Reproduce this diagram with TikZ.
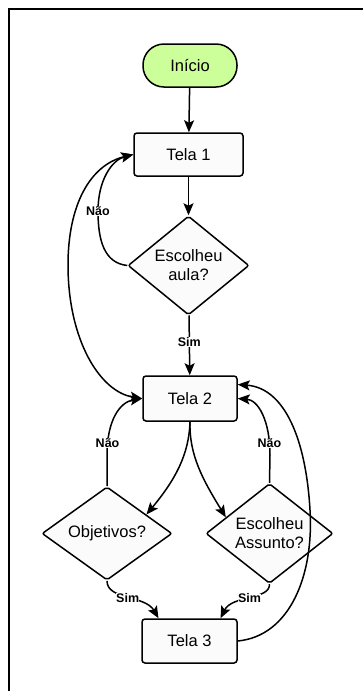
\documentclass[tikz,border=0pt]{standalone}
\usepackage{fontspec}
\setmainfont{Liberation Sans}
\usetikzlibrary{shapes.geometric,arrows.meta,calc}
\definecolor{startgreen}{HTML}{CCFF99}
\definecolor{boxfill}{HTML}{FBFBFB}
\begin{document}
\begin{tikzpicture}[x=1pt,y=-1pt,
  txt/.style={font=\fontsize{16.5}{19}\selectfont},
  startbox/.style={txt, draw, line width=1.5pt, rounded corners=21pt, fill=startgreen, minimum width=94pt, minimum height=43pt, inner sep=0},
  box/.style={txt, draw, line width=1.5pt, rounded corners=3pt, fill=boxfill, minimum height=44pt, inner sep=0},
  dec/.style={txt, draw, diamond, line width=1.5pt, rounded corners=2pt, fill=boxfill, inner sep=0, align=center},
  arr/.style={line width=1.5pt, -{Stealth[length=12pt,width=10pt,inset=2.5pt]}},
  darr/.style={line width=1.5pt, {Stealth[length=12pt,width=10pt,inset=2.5pt]}-{Stealth[length=12pt,width=10pt,inset=2.5pt]}},
  lbl/.style={font=\bfseries\fontsize{12.5}{13}\selectfont, fill=white, inner sep=0.3pt}
]
\useasboundingbox (0,0) rectangle (363,691);
\draw[line width=2pt] (9,691) -- (9,9) -- (363,9);

\node[startbox] (start) at (190,65.5) {Início};
\node[box, minimum width=109pt, minimum height=43pt] (t1) at (188.5,154.5) {Tela 1};
\node[dec, minimum width=121pt, minimum height=87pt] (aula) at (188.5,265.5) {Escolheu\\aula?};
\node[box, minimum width=94pt, minimum height=45pt] (t2) at (190,398.5) {Tela 2};
\node[dec, minimum width=130pt, minimum height=87pt] (obj) at (107,533.5) {Objetivos?};
\node[dec, minimum width=127pt, minimum height=87pt] (ass) at (269.5,533.5) {Escolheu\\Assunto?};
\node[box, minimum width=95pt] (t3) at (189.5,641) {Tela 3};

\coordinate (t2r) at ([yshift=14pt]t2.east);
\coordinate (t3l) at ([xshift=-31pt]t3.north);
\coordinate (t3r) at ([xshift=31pt]t3.north);
\coordinate (objin) at ($(obj.north)!0.6!(obj.east)$);
\coordinate (assin) at ($(ass.north)!0.68!(ass.west)$);

\draw[arr] (start) -- (t1);
\draw[arr] (t1) -- (aula);
\draw[arr] (aula) -- (t2) node[lbl, pos=0.45] {Sim};

\draw[arr] (aula.west) .. controls (104,263) and (98,240) .. (98,211)
  node[lbl] {Não} .. controls (98,180) and (112,160) .. (t1.west);
\draw[darr] (t1.west) .. controls (90,165) and (68,205) .. (68,265)
  .. controls (68,340) and (100,392) .. (t2.west);

\draw[arr] (t2.south) .. controls (189,455) and (175,480) .. (objin);
\draw[arr] (t2.south) .. controls (189,455) and (203,480) .. (assin);

\draw[arr] (obj.north) -- (107,455) .. controls (107,420) and (120,402) .. (t2.west)
  node[lbl, pos=0.12] {Não};
\draw[arr] (ass.north) -- (270,455) .. controls (270,420) and (258,400) .. (t2.east)
  node[lbl, pos=0.12] {Não};

\draw[arr] (t3.east) .. controls (290,636) and (314,575) .. (310,510)
  .. controls (306,440) and (285,388) .. (t2r);

\draw[arr] (obj.south) .. controls (107,600) and (145,595) .. (t3l)
  node[lbl, pos=0.5] {Sim};
\draw[arr] (ass.south) .. controls (270,600) and (232,595) .. (t3r)
  node[lbl, pos=0.5] {Sim};
\end{tikzpicture}
\end{document}
